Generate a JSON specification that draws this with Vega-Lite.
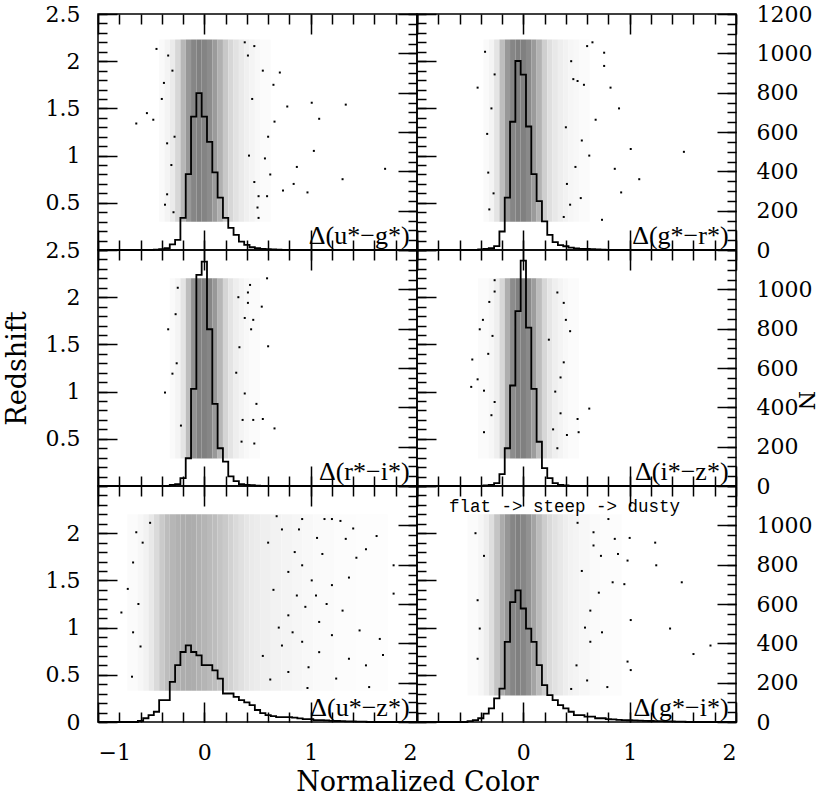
{
"$schema":"https://vega.github.io/schema/vega-lite/v6.json",
"background":"white",
"padding":{"left":2,"top":2,"right":0,"bottom":0},
"columns":2,
"spacing":0,
"bounds":"flush",
"config":{"view":{"stroke":"black","strokeWidth":1.5},"axis":{"domain":false,"grid":false,"ticks":true,"tickColor":"black","tickWidth":1.5,"tickOpacity":1,"labelFont":"DejaVu Serif","labelFontSize":22,"labelColor":"black","titleFont":"DejaVu Serif","titleFontSize":27,"titleFontWeight":"normal","titleColor":"black"}},
"datasets":{
"cells":[
{"p":"ug","a":-0.425,"b":-0.375,"d":0.04},{"p":"ug","a":-0.375,"b":-0.325,"d":0.08},{"p":"ug","a":-0.325,"b":-0.275,"d":0.15},{"p":"ug","a":-0.275,"b":-0.225,"d":0.3},{"p":"ug","a":-0.225,"b":-0.175,"d":0.55},{"p":"ug","a":-0.175,"b":-0.125,"d":0.8},{"p":"ug","a":-0.125,"b":-0.075,"d":0.95},{"p":"ug","a":-0.075,"b":-0.025,"d":1},{"p":"ug","a":-0.025,"b":0.025,"d":0.97},{"p":"ug","a":0.025,"b":0.075,"d":0.9},{"p":"ug","a":0.075,"b":0.125,"d":0.78},{"p":"ug","a":0.125,"b":0.175,"d":0.6},{"p":"ug","a":0.175,"b":0.225,"d":0.42},{"p":"ug","a":0.225,"b":0.275,"d":0.3},{"p":"ug","a":0.275,"b":0.325,"d":0.22},{"p":"ug","a":0.325,"b":0.375,"d":0.16},{"p":"ug","a":0.375,"b":0.425,"d":0.11},{"p":"ug","a":0.425,"b":0.475,"d":0.08},{"p":"ug","a":0.475,"b":0.525,"d":0.05},{"p":"ug","a":0.525,"b":0.625,"d":0.03},
{"p":"gr","a":-0.375,"b":-0.325,"d":0.04},{"p":"gr","a":-0.325,"b":-0.275,"d":0.08},{"p":"gr","a":-0.275,"b":-0.225,"d":0.2},{"p":"gr","a":-0.225,"b":-0.175,"d":0.5},{"p":"gr","a":-0.175,"b":-0.125,"d":0.8},{"p":"gr","a":-0.125,"b":-0.075,"d":0.95},{"p":"gr","a":-0.075,"b":-0.025,"d":1},{"p":"gr","a":-0.025,"b":0.025,"d":1},{"p":"gr","a":0.025,"b":0.075,"d":0.92},{"p":"gr","a":0.075,"b":0.125,"d":0.78},{"p":"gr","a":0.125,"b":0.175,"d":0.58},{"p":"gr","a":0.175,"b":0.225,"d":0.36},{"p":"gr","a":0.225,"b":0.275,"d":0.24},{"p":"gr","a":0.275,"b":0.325,"d":0.17},{"p":"gr","a":0.325,"b":0.375,"d":0.13},{"p":"gr","a":0.375,"b":0.425,"d":0.1},{"p":"gr","a":0.425,"b":0.475,"d":0.07},{"p":"gr","a":0.475,"b":0.525,"d":0.05},{"p":"gr","a":0.525,"b":0.625,"d":0.03},
{"p":"ri","a":-0.325,"b":-0.275,"d":0.04},{"p":"ri","a":-0.275,"b":-0.225,"d":0.08},{"p":"ri","a":-0.225,"b":-0.175,"d":0.2},{"p":"ri","a":-0.175,"b":-0.125,"d":0.5},{"p":"ri","a":-0.125,"b":-0.075,"d":0.85},{"p":"ri","a":-0.075,"b":-0.025,"d":1},{"p":"ri","a":-0.025,"b":0.025,"d":1},{"p":"ri","a":0.025,"b":0.075,"d":0.95},{"p":"ri","a":0.075,"b":0.125,"d":0.8},{"p":"ri","a":0.125,"b":0.175,"d":0.55},{"p":"ri","a":0.175,"b":0.225,"d":0.32},{"p":"ri","a":0.225,"b":0.275,"d":0.2},{"p":"ri","a":0.275,"b":0.325,"d":0.13},{"p":"ri","a":0.325,"b":0.375,"d":0.08},{"p":"ri","a":0.375,"b":0.425,"d":0.05},{"p":"ri","a":0.425,"b":0.525,"d":0.03},
{"p":"iz","a":-0.425,"b":-0.325,"d":0.03},{"p":"iz","a":-0.325,"b":-0.275,"d":0.06},{"p":"iz","a":-0.275,"b":-0.225,"d":0.12},{"p":"iz","a":-0.225,"b":-0.175,"d":0.3},{"p":"iz","a":-0.175,"b":-0.125,"d":0.62},{"p":"iz","a":-0.125,"b":-0.075,"d":0.9},{"p":"iz","a":-0.075,"b":-0.025,"d":1},{"p":"iz","a":-0.025,"b":0.025,"d":1},{"p":"iz","a":0.025,"b":0.075,"d":0.92},{"p":"iz","a":0.075,"b":0.125,"d":0.76},{"p":"iz","a":0.125,"b":0.175,"d":0.5},{"p":"iz","a":0.175,"b":0.225,"d":0.3},{"p":"iz","a":0.225,"b":0.275,"d":0.19},{"p":"iz","a":0.275,"b":0.325,"d":0.12},{"p":"iz","a":0.325,"b":0.375,"d":0.08},{"p":"iz","a":0.375,"b":0.425,"d":0.05},{"p":"iz","a":0.425,"b":0.525,"d":0.03},
{"p":"uz","a":-0.725,"b":-0.625,"d":0.03},{"p":"uz","a":-0.625,"b":-0.575,"d":0.06},{"p":"uz","a":-0.575,"b":-0.525,"d":0.1},{"p":"uz","a":-0.525,"b":-0.475,"d":0.17},{"p":"uz","a":-0.475,"b":-0.425,"d":0.28},{"p":"uz","a":-0.425,"b":-0.375,"d":0.4},{"p":"uz","a":-0.375,"b":-0.325,"d":0.5},{"p":"uz","a":-0.325,"b":-0.275,"d":0.56},{"p":"uz","a":-0.275,"b":-0.225,"d":0.6},{"p":"uz","a":-0.225,"b":-0.175,"d":0.63},{"p":"uz","a":-0.175,"b":-0.125,"d":0.64},{"p":"uz","a":-0.125,"b":-0.075,"d":0.63},{"p":"uz","a":-0.075,"b":-0.025,"d":0.6},{"p":"uz","a":-0.025,"b":0.025,"d":0.57},{"p":"uz","a":0.025,"b":0.075,"d":0.53},{"p":"uz","a":0.075,"b":0.125,"d":0.5},{"p":"uz","a":0.125,"b":0.175,"d":0.45},{"p":"uz","a":0.175,"b":0.225,"d":0.4},{"p":"uz","a":0.225,"b":0.275,"d":0.34},{"p":"uz","a":0.275,"b":0.325,"d":0.28},{"p":"uz","a":0.325,"b":0.375,"d":0.23},{"p":"uz","a":0.375,"b":0.425,"d":0.19},{"p":"uz","a":0.425,"b":0.475,"d":0.16},{"p":"uz","a":0.475,"b":0.525,"d":0.14},{"p":"uz","a":0.525,"b":0.625,"d":0.12},{"p":"uz","a":0.625,"b":0.725,"d":0.1},{"p":"uz","a":0.725,"b":0.825,"d":0.08},{"p":"uz","a":0.825,"b":0.925,"d":0.065},{"p":"uz","a":0.925,"b":1.025,"d":0.05},{"p":"uz","a":1.025,"b":1.225,"d":0.035},{"p":"uz","a":1.225,"b":1.425,"d":0.025},{"p":"uz","a":1.425,"b":1.725,"d":0.015},
{"p":"gi","a":-0.525,"b":-0.425,"d":0.03},{"p":"gi","a":-0.425,"b":-0.375,"d":0.07},{"p":"gi","a":-0.375,"b":-0.325,"d":0.13},{"p":"gi","a":-0.325,"b":-0.275,"d":0.25},{"p":"gi","a":-0.275,"b":-0.225,"d":0.45},{"p":"gi","a":-0.225,"b":-0.175,"d":0.65},{"p":"gi","a":-0.175,"b":-0.125,"d":0.82},{"p":"gi","a":-0.125,"b":-0.075,"d":0.95},{"p":"gi","a":-0.075,"b":-0.025,"d":1},{"p":"gi","a":-0.025,"b":0.025,"d":0.95},{"p":"gi","a":0.025,"b":0.075,"d":0.85},{"p":"gi","a":0.075,"b":0.125,"d":0.7},{"p":"gi","a":0.125,"b":0.175,"d":0.52},{"p":"gi","a":0.175,"b":0.225,"d":0.38},{"p":"gi","a":0.225,"b":0.275,"d":0.28},{"p":"gi","a":0.275,"b":0.325,"d":0.22},{"p":"gi","a":0.325,"b":0.375,"d":0.17},{"p":"gi","a":0.375,"b":0.425,"d":0.13},{"p":"gi","a":0.425,"b":0.475,"d":0.1},{"p":"gi","a":0.475,"b":0.525,"d":0.08},{"p":"gi","a":0.525,"b":0.625,"d":0.06},{"p":"gi","a":0.625,"b":0.725,"d":0.04},{"p":"gi","a":0.725,"b":0.925,"d":0.025}
],
"pts":[
{"p":"ug","x":-0.45,"z":2.13},{"p":"ug","x":-0.34,"z":2.06},{"p":"ug","x":-0.38,"z":1.77},{"p":"ug","x":-0.54,"z":1.45},{"p":"ug","x":-0.64,"z":1.34},{"p":"ug","x":-0.48,"z":1.38},{"p":"ug","x":-0.35,"z":1.13},{"p":"ug","x":-0.35,"z":0.59},{"p":"ug","x":-0.37,"z":0.48},{"p":"ug","x":0.71,"z":1.88},{"p":"ug","x":0.65,"z":1.75},{"p":"ug","x":0.78,"z":1.52},{"p":"ug","x":1.01,"z":1.56},{"p":"ug","x":1.33,"z":1.54},{"p":"ug","x":1.08,"z":1.39},{"p":"ug","x":1.03,"z":1.05},{"p":"ug","x":0.87,"z":0.88},{"p":"ug","x":0.84,"z":0.7},{"p":"ug","x":1.3,"z":0.75},{"p":"ug","x":1.7,"z":0.86},{"p":"ug","x":0.74,"z":0.63},{"p":"ug","x":0.97,"z":0.61},{"p":"ug","x":0.57,"z":0.97},{"p":"ug","x":0.59,"z":0.57},{"p":"ug","x":0.51,"z":0.57},{"p":"ug","x":0.51,"z":0.34},{"p":"ug","x":0.47,"z":0.72},{"p":"ug","x":0.66,"z":1.36},{"p":"ug","x":0.47,"z":2.16},{"p":"ug","x":0.41,"z":2.06},{"p":"ug","x":-0.3,"z":1.9},{"p":"ug","x":-0.28,"z":1.2},{"p":"ug","x":-0.31,"z":0.9},{"p":"ug","x":0.45,"z":1.6},{"p":"ug","x":0.55,"z":1.9},{"p":"ug","x":0.6,"z":1.2},{"p":"ug","x":0.42,"z":1.0},{"p":"ug","x":0.5,"z":0.45},{"p":"ug","x":0.62,"z":0.8},{"p":"ug","x":-0.4,"z":1.6},{"p":"ug","x":-0.29,"z":0.4},{"p":"ug","x":0.38,"z":2.2},
{"p":"gr","x":-0.43,"z":1.72},{"p":"gr","x":-0.34,"z":1.23},{"p":"gr","x":-0.33,"z":0.82},{"p":"gr","x":-0.32,"z":0.43},{"p":"gr","x":-0.27,"z":1.86},{"p":"gr","x":0.6,"z":2.16},{"p":"gr","x":0.65,"z":2.2},{"p":"gr","x":0.76,"z":2.09},{"p":"gr","x":0.76,"z":1.95},{"p":"gr","x":0.82,"z":1.72},{"p":"gr","x":0.9,"z":1.5},{"p":"gr","x":0.68,"z":1.38},{"p":"gr","x":0.57,"z":1.75},{"p":"gr","x":0.51,"z":1.79},{"p":"gr","x":0.47,"z":1.81},{"p":"gr","x":0.55,"z":1.16},{"p":"gr","x":0.49,"z":0.88},{"p":"gr","x":0.86,"z":0.86},{"p":"gr","x":1.01,"z":1.07},{"p":"gr","x":1.09,"z":0.75},{"p":"gr","x":0.92,"z":0.61},{"p":"gr","x":1.51,"z":1.04},{"p":"gr","x":0.74,"z":0.32},{"p":"gr","x":0.54,"z":0.55},{"p":"gr","x":0.44,"z":0.48},{"p":"gr","x":0.41,"z":0.7},{"p":"gr","x":-0.3,"z":1.5},{"p":"gr","x":-0.28,"z":0.6},{"p":"gr","x":0.45,"z":2.0},{"p":"gr","x":0.4,"z":1.3},{"p":"gr","x":0.62,"z":1.0},{"p":"gr","x":0.38,"z":0.35},{"p":"gr","x":-0.36,"z":2.1},
{"p":"ri","x":0.59,"z":2.2},{"p":"ri","x":0.43,"z":2.13},{"p":"ri","x":0.41,"z":2.05},{"p":"ri","x":0.54,"z":1.9},{"p":"ri","x":0.41,"z":1.94},{"p":"ri","x":0.38,"z":1.78},{"p":"ri","x":0.46,"z":1.76},{"p":"ri","x":0.44,"z":1.66},{"p":"ri","x":0.6,"z":1.48},{"p":"ri","x":-0.27,"z":1.82},{"p":"ri","x":-0.34,"z":1.66},{"p":"ri","x":-0.3,"z":1.19},{"p":"ri","x":-0.37,"z":0.99},{"p":"ri","x":0.49,"z":0.87},{"p":"ri","x":0.66,"z":0.61},{"p":"ri","x":0.55,"z":0.71},{"p":"ri","x":0.46,"z":0.7},{"p":"ri","x":0.47,"z":0.45},{"p":"ri","x":0.35,"z":0.47},{"p":"ri","x":0.38,"z":0.98},{"p":"ri","x":0.33,"z":1.47},{"p":"ri","x":-0.22,"z":0.64},{"p":"ri","x":-0.25,"z":2.1},{"p":"ri","x":0.3,"z":1.2},{"p":"ri","x":0.36,"z":0.7},{"p":"ri","x":-0.26,"z":1.3},{"p":"ri","x":0.32,"z":2.0},
{"p":"iz","x":-0.27,"z":2.18},{"p":"iz","x":-0.27,"z":2.06},{"p":"iz","x":-0.38,"z":1.76},{"p":"iz","x":-0.41,"z":1.66},{"p":"iz","x":-0.48,"z":1.34},{"p":"iz","x":-0.49,"z":1.05},{"p":"iz","x":-0.43,"z":1.13},{"p":"iz","x":-0.37,"z":1.01},{"p":"iz","x":-0.29,"z":1.59},{"p":"iz","x":-0.37,"z":0.57},{"p":"iz","x":-0.27,"z":0.89},{"p":"iz","x":0.32,"z":2.05},{"p":"iz","x":0.38,"z":1.94},{"p":"iz","x":0.4,"z":1.76},{"p":"iz","x":0.44,"z":1.64},{"p":"iz","x":0.38,"z":1.31},{"p":"iz","x":0.35,"z":1.15},{"p":"iz","x":0.62,"z":0.82},{"p":"iz","x":0.51,"z":0.71},{"p":"iz","x":0.52,"z":0.57},{"p":"iz","x":0.41,"z":0.54},{"p":"iz","x":0.32,"z":0.4},{"p":"iz","x":0.35,"z":0.77},{"p":"iz","x":0.24,"z":1.55},{"p":"iz","x":-0.33,"z":1.4},{"p":"iz","x":-0.3,"z":0.75},{"p":"iz","x":0.3,"z":1.0},{"p":"iz","x":0.28,"z":0.6},{"p":"iz","x":-0.32,"z":1.95},
{"p":"uz","x":0.92,"z":2.15},{"p":"uz","x":1.13,"z":2.15},{"p":"uz","x":1.2,"z":2.15},{"p":"uz","x":1.28,"z":2.13},{"p":"uz","x":0.89,"z":2.04},{"p":"uz","x":0.73,"z":2.04},{"p":"uz","x":1.06,"z":1.95},{"p":"uz","x":1.33,"z":1.94},{"p":"uz","x":1.62,"z":1.97},{"p":"uz","x":1.78,"z":1.66},{"p":"uz","x":1.52,"z":1.83},{"p":"uz","x":1.43,"z":1.74},{"p":"uz","x":1.11,"z":1.78},{"p":"uz","x":0.92,"z":1.66},{"p":"uz","x":0.79,"z":1.59},{"p":"uz","x":1.01,"z":1.5},{"p":"uz","x":1.2,"z":1.45},{"p":"uz","x":1.36,"z":1.53},{"p":"uz","x":0.87,"z":1.34},{"p":"uz","x":1.05,"z":1.34},{"p":"uz","x":1.3,"z":1.18},{"p":"uz","x":1.78,"z":1.36},{"p":"uz","x":0.95,"z":1.22},{"p":"uz","x":0.79,"z":1.13},{"p":"uz","x":1.08,"z":1.06},{"p":"uz","x":1.46,"z":0.97},{"p":"uz","x":1.65,"z":0.88},{"p":"uz","x":1.2,"z":0.92},{"p":"uz","x":0.92,"z":0.85},{"p":"uz","x":0.73,"z":0.81},{"p":"uz","x":1.08,"z":0.74},{"p":"uz","x":1.36,"z":0.67},{"p":"uz","x":1.52,"z":0.6},{"p":"uz","x":1.68,"z":0.71},{"p":"uz","x":0.98,"z":0.58},{"p":"uz","x":0.79,"z":0.53},{"p":"uz","x":1.24,"z":0.46},{"p":"uz","x":1.55,"z":0.37},{"p":"uz","x":0.97,"z":0.36},{"p":"uz","x":-0.67,"z":1.69},{"p":"uz","x":-0.72,"z":1.41},{"p":"uz","x":-0.78,"z":1.16},{"p":"uz","x":-0.67,"z":0.95},{"p":"uz","x":-0.68,"z":0.48},{"p":"uz","x":-0.64,"z":2.01},{"p":"uz","x":-0.51,"z":2.11},{"p":"uz","x":0.6,"z":1.9},{"p":"uz","x":0.65,"z":1.4},{"p":"uz","x":0.7,"z":1.0},{"p":"uz","x":0.55,"z":0.7},{"p":"uz","x":0.62,"z":0.45},{"p":"uz","x":0.85,"z":1.8},{"p":"uz","x":0.68,"z":2.18},{"p":"uz","x":1.4,"z":2.05},{"p":"uz","x":1.15,"z":1.25},{"p":"uz","x":0.83,"z":0.95},{"p":"uz","x":-0.6,"z":0.8},{"p":"uz","x":-0.62,"z":1.25},{"p":"uz","x":-0.58,"z":1.9},
{"p":"gi","x":0.66,"z":1.87},{"p":"gi","x":0.86,"z":1.94},{"p":"gi","x":1.0,"z":1.95},{"p":"gi","x":1.24,"z":1.9},{"p":"gi","x":0.89,"z":1.78},{"p":"gi","x":0.73,"z":1.76},{"p":"gi","x":0.98,"z":1.71},{"p":"gi","x":1.25,"z":1.66},{"p":"gi","x":1.49,"z":1.48},{"p":"gi","x":0.84,"z":1.48},{"p":"gi","x":0.95,"z":1.46},{"p":"gi","x":0.71,"z":1.37},{"p":"gi","x":0.63,"z":1.18},{"p":"gi","x":1.01,"z":1.08},{"p":"gi","x":1.38,"z":0.99},{"p":"gi","x":1.76,"z":0.81},{"p":"gi","x":1.6,"z":0.72},{"p":"gi","x":0.98,"z":0.64},{"p":"gi","x":1.01,"z":0.55},{"p":"gi","x":0.79,"z":0.37},{"p":"gi","x":0.6,"z":0.44},{"p":"gi","x":0.74,"z":0.95},{"p":"gi","x":0.63,"z":0.85},{"p":"gi","x":-0.43,"z":1.29},{"p":"gi","x":-0.41,"z":0.99},{"p":"gi","x":-0.43,"z":0.67},{"p":"gi","x":-0.37,"z":1.76},{"p":"gi","x":0.51,"z":2.11},{"p":"gi","x":0.66,"z":2.01},{"p":"gi","x":0.55,"z":1.6},{"p":"gi","x":0.58,"z":1.0},{"p":"gi","x":0.5,"z":0.6},{"p":"gi","x":-0.45,"z":2.0},{"p":"gi","x":0.8,"z":2.15},{"p":"gi","x":0.45,"z":0.35}
],
"hist":[
{"p":"ug","x":-1,"n":0},{"p":"ug","x":-0.475,"n":2},{"p":"ug","x":-0.425,"n":4},{"p":"ug","x":-0.375,"n":9},{"p":"ug","x":-0.325,"n":29},{"p":"ug","x":-0.275,"n":51},{"p":"ug","x":-0.225,"n":163},{"p":"ug","x":-0.175,"n":386},{"p":"ug","x":-0.125,"n":678},{"p":"ug","x":-0.075,"n":798},{"p":"ug","x":-0.025,"n":678},{"p":"ug","x":0.025,"n":550},{"p":"ug","x":0.075,"n":395},{"p":"ug","x":0.125,"n":266},{"p":"ug","x":0.175,"n":163},{"p":"ug","x":0.225,"n":112},{"p":"ug","x":0.275,"n":77},{"p":"ug","x":0.325,"n":43},{"p":"ug","x":0.375,"n":26},{"p":"ug","x":0.425,"n":14},{"p":"ug","x":0.475,"n":9},{"p":"ug","x":0.525,"n":6},{"p":"ug","x":0.575,"n":4},{"p":"ug","x":0.625,"n":3},{"p":"ug","x":0.675,"n":2},{"p":"ug","x":0.725,"n":0},{"p":"ug","x":2,"n":0},
{"p":"gr","x":-1,"n":0},{"p":"gr","x":-0.425,"n":3},{"p":"gr","x":-0.375,"n":5},{"p":"gr","x":-0.325,"n":10},{"p":"gr","x":-0.275,"n":20},{"p":"gr","x":-0.225,"n":94},{"p":"gr","x":-0.175,"n":266},{"p":"gr","x":-0.125,"n":652},{"p":"gr","x":-0.075,"n":961},{"p":"gr","x":-0.025,"n":892},{"p":"gr","x":0.025,"n":628},{"p":"gr","x":0.075,"n":386},{"p":"gr","x":0.125,"n":249},{"p":"gr","x":0.175,"n":146},{"p":"gr","x":0.225,"n":77},{"p":"gr","x":0.275,"n":40},{"p":"gr","x":0.325,"n":25},{"p":"gr","x":0.375,"n":19},{"p":"gr","x":0.425,"n":12},{"p":"gr","x":0.475,"n":8},{"p":"gr","x":0.525,"n":6},{"p":"gr","x":0.575,"n":5},{"p":"gr","x":0.625,"n":4},{"p":"gr","x":0.675,"n":3},{"p":"gr","x":0.725,"n":2},{"p":"gr","x":0.775,"n":0},{"p":"gr","x":2,"n":0},
{"p":"ri","x":-1,"n":0},{"p":"ri","x":-0.325,"n":5},{"p":"ri","x":-0.275,"n":10},{"p":"ri","x":-0.225,"n":40},{"p":"ri","x":-0.175,"n":141},{"p":"ri","x":-0.125,"n":494},{"p":"ri","x":-0.075,"n":1074},{"p":"ri","x":-0.025,"n":1141},{"p":"ri","x":0.025,"n":797},{"p":"ri","x":0.075,"n":418},{"p":"ri","x":0.125,"n":192},{"p":"ri","x":0.175,"n":124},{"p":"ri","x":0.225,"n":49},{"p":"ri","x":0.275,"n":25},{"p":"ri","x":0.325,"n":10},{"p":"ri","x":0.375,"n":6},{"p":"ri","x":0.425,"n":4},{"p":"ri","x":0.475,"n":2},{"p":"ri","x":0.525,"n":0},{"p":"ri","x":2,"n":0},
{"p":"iz","x":-1,"n":0},{"p":"iz","x":-0.375,"n":3},{"p":"iz","x":-0.325,"n":6},{"p":"iz","x":-0.275,"n":15},{"p":"iz","x":-0.225,"n":60},{"p":"iz","x":-0.175,"n":192},{"p":"iz","x":-0.125,"n":511},{"p":"iz","x":-0.075,"n":889},{"p":"iz","x":-0.025,"n":1146},{"p":"iz","x":0.025,"n":805},{"p":"iz","x":0.075,"n":494},{"p":"iz","x":0.125,"n":225},{"p":"iz","x":0.175,"n":91},{"p":"iz","x":0.225,"n":40},{"p":"iz","x":0.275,"n":15},{"p":"iz","x":0.325,"n":6},{"p":"iz","x":0.375,"n":3},{"p":"iz","x":0.425,"n":0},{"p":"iz","x":2,"n":0},
{"p":"uz","x":-1,"n":0},{"p":"uz","x":-0.625,"n":5},{"p":"uz","x":-0.575,"n":19},{"p":"uz","x":-0.525,"n":35},{"p":"uz","x":-0.475,"n":52},{"p":"uz","x":-0.425,"n":111},{"p":"uz","x":-0.375,"n":111},{"p":"uz","x":-0.325,"n":204},{"p":"uz","x":-0.275,"n":289},{"p":"uz","x":-0.225,"n":356},{"p":"uz","x":-0.175,"n":390},{"p":"uz","x":-0.125,"n":356},{"p":"uz","x":-0.075,"n":339},{"p":"uz","x":-0.025,"n":289},{"p":"uz","x":0.025,"n":289},{"p":"uz","x":0.075,"n":263},{"p":"uz","x":0.125,"n":221},{"p":"uz","x":0.175,"n":145},{"p":"uz","x":0.225,"n":145},{"p":"uz","x":0.275,"n":128},{"p":"uz","x":0.325,"n":111},{"p":"uz","x":0.375,"n":100},{"p":"uz","x":0.425,"n":86},{"p":"uz","x":0.475,"n":61},{"p":"uz","x":0.525,"n":45},{"p":"uz","x":0.575,"n":35},{"p":"uz","x":0.625,"n":30},{"p":"uz","x":0.675,"n":25},{"p":"uz","x":0.725,"n":25},{"p":"uz","x":0.775,"n":25},{"p":"uz","x":0.825,"n":22},{"p":"uz","x":0.875,"n":18},{"p":"uz","x":0.925,"n":15},{"p":"uz","x":0.975,"n":15},{"p":"uz","x":1.025,"n":10},{"p":"uz","x":1.075,"n":10},{"p":"uz","x":1.125,"n":8},{"p":"uz","x":1.175,"n":6},{"p":"uz","x":1.225,"n":5},{"p":"uz","x":1.275,"n":4},{"p":"uz","x":1.325,"n":3},{"p":"uz","x":1.375,"n":3},{"p":"uz","x":1.425,"n":2},{"p":"uz","x":1.475,"n":2},{"p":"uz","x":1.525,"n":0},{"p":"uz","x":2,"n":0},
{"p":"gi","x":-1,"n":0},{"p":"gi","x":-0.525,"n":4},{"p":"gi","x":-0.475,"n":10},{"p":"gi","x":-0.425,"n":19},{"p":"gi","x":-0.375,"n":43},{"p":"gi","x":-0.325,"n":69},{"p":"gi","x":-0.275,"n":120},{"p":"gi","x":-0.225,"n":170},{"p":"gi","x":-0.175,"n":407},{"p":"gi","x":-0.125,"n":610},{"p":"gi","x":-0.075,"n":669},{"p":"gi","x":-0.025,"n":577},{"p":"gi","x":0.025,"n":475},{"p":"gi","x":0.075,"n":407},{"p":"gi","x":0.125,"n":289},{"p":"gi","x":0.175,"n":187},{"p":"gi","x":0.225,"n":137},{"p":"gi","x":0.275,"n":111},{"p":"gi","x":0.325,"n":86},{"p":"gi","x":0.375,"n":69},{"p":"gi","x":0.425,"n":52},{"p":"gi","x":0.475,"n":35},{"p":"gi","x":0.525,"n":35},{"p":"gi","x":0.575,"n":27},{"p":"gi","x":0.625,"n":27},{"p":"gi","x":0.675,"n":19},{"p":"gi","x":0.725,"n":19},{"p":"gi","x":0.775,"n":15},{"p":"gi","x":0.825,"n":13},{"p":"gi","x":0.875,"n":11},{"p":"gi","x":0.925,"n":10},{"p":"gi","x":0.975,"n":9},{"p":"gi","x":1.025,"n":8},{"p":"gi","x":1.075,"n":7},{"p":"gi","x":1.125,"n":6},{"p":"gi","x":1.175,"n":5},{"p":"gi","x":1.225,"n":4},{"p":"gi","x":1.325,"n":3},{"p":"gi","x":1.425,"n":2},{"p":"gi","x":1.525,"n":0},{"p":"gi","x":2,"n":0}
]
},
"concat":[
{"width":319,"height":236,
"layer":[
{"data":{"name":"cells"},"transform":[{"filter":"datum.p==='ug'"}],"mark":{"type":"rect"},
"encoding":{"x":{"field":"a","type":"quantitative","scale":{"domain":[-1,2],"nice":false,"zero":false},"axis":null},"x2":{"field":"b"},"y":{"datum":0.3,"type":"quantitative","scale":{"domain":[0,2.5],"nice":false,"zero":false},"axis":null},"y2":{"datum":2.23},"color":{"field":"d","type":"quantitative","scale":{"domain":[0,1],"range":["#ffffff","#808080"]},"legend":null}}},
{"data":{"name":"pts"},"transform":[{"filter":"datum.p==='ug'"}],"mark":{"type":"square","size":4,"color":"black","opacity":1},
"encoding":{"x":{"field":"x","type":"quantitative","scale":{"domain":[-1,2],"nice":false,"zero":false},"axis":{"orient":"bottom","values":[-1,-0.8,-0.6,-0.4,-0.2,0,0.2,0.4,0.6,0.8,1,1.2,1.4,1.6,1.8,2],"offset":-10,"tickSize":10,"ticks":true,"tickColor":"black","tickWidth":1.5,"tickOpacity":1,"zindex":1,"labels":false,"title":null}},"y":{"field":"z","type":"quantitative","scale":{"domain":[0,2.5],"nice":false,"zero":false},"axis":{"orient":"left","values":[0,0.1,0.2,0.3,0.4,0.5,0.6,0.7,0.8,0.9,1,1.1,1.2,1.3,1.4,1.5,1.6,1.7,1.8,1.9,2,2.1,2.2,2.3,2.4,2.5],"offset":-9,"tickSize":9,"ticks":true,"tickColor":"black","tickWidth":1.5,"tickOpacity":1,"zindex":1,"labels":false,"title":null}}}},
{"data":{"name":"pts"},"transform":[{"filter":"datum.p==='ug'"}],"mark":{"type":"square","size":4,"color":"black","opacity":0},
"encoding":{"x":{"field":"x","type":"quantitative","scale":{"domain":[-1,2],"nice":false,"zero":false},"axis":{"orient":"bottom","values":[-1,0,1,2],"offset":-20,"tickSize":20,"ticks":true,"tickColor":"black","tickWidth":1.5,"tickOpacity":1,"zindex":1,"labels":false,"title":null}},"y":{"field":"z","type":"quantitative","scale":{"domain":[0,2.5],"nice":false,"zero":false},"axis":{"orient":"left","values":[0.5,1,1.5,2,2.5],"offset":-19,"tickSize":19,"ticks":true,"tickColor":"black","tickWidth":1.5,"tickOpacity":1,"zindex":1,"labels":true,"labelPadding":18,"format":"~g","title":null}}}},
{"data":{"name":"hist"},"transform":[{"filter":"datum.p==='ug'"}],"mark":{"type":"line","interpolate":"step-after","color":"black","strokeWidth":1.8},
"encoding":{"x":{"field":"x","type":"quantitative","scale":{"domain":[-1,2],"nice":false,"zero":false},"axis":{"orient":"top","values":[-1,-0.8,-0.6,-0.4,-0.2,0,0.2,0.4,0.6,0.8,1,1.2,1.4,1.6,1.8,2],"offset":-10,"tickSize":10,"ticks":true,"tickColor":"black","tickWidth":1.5,"tickOpacity":1,"zindex":1,"labels":false,"title":null}},"y":{"field":"n","type":"quantitative","scale":{"domain":[0,1200],"nice":false,"zero":false},"axis":{"orient":"right","values":[0,50,100,150,200,250,300,350,400,450,500,550,600,650,700,750,800,850,900,950,1000,1050,1100,1150,1200],"offset":-9,"tickSize":9,"ticks":true,"tickColor":"black","tickWidth":1.5,"tickOpacity":1,"zindex":1,"labels":false,"title":null}}}},
{"data":{"name":"hist"},"transform":[{"filter":"datum.p==='ug'"}],"mark":{"type":"line","interpolate":"step-after","color":"black","opacity":0},
"encoding":{"x":{"field":"x","type":"quantitative","scale":{"domain":[-1,2],"nice":false,"zero":false},"axis":{"orient":"top","values":[-1,0,1,2],"offset":-20,"tickSize":20,"ticks":true,"tickColor":"black","tickWidth":1.5,"tickOpacity":1,"zindex":1,"labels":false,"title":null}},"y":{"field":"n","type":"quantitative","scale":{"domain":[0,1200],"nice":false,"zero":false},"axis":{"orient":"right","values":[0,200,400,600,800,1000,1200],"offset":-19,"tickSize":19,"ticks":true,"tickColor":"black","tickWidth":1.5,"tickOpacity":1,"zindex":1,"labels":false,"title":null}}}},
{"data":{"values":[{"t":"Δ(u*−g*)"}]},"mark":{"type":"text","align":"right","baseline":"bottom","font":"Liberation Serif","fontSize":26,"color":"black"},
"encoding":{"text":{"field":"t","type":"nominal"},"x":{"datum":1.93,"type":"quantitative","scale":{"domain":[-1,2],"nice":false,"zero":false},"axis":null},"y":{"datum":5,"type":"quantitative","scale":{"domain":[0,1200],"nice":false,"zero":false},"axis":null}}}
],
"resolve":{"scale":{"y":"independent"},"axis":{"x":"independent","y":"independent"}}},

{"width":319,"height":236,
"layer":[
{"data":{"name":"cells"},"transform":[{"filter":"datum.p==='gr'"}],"mark":{"type":"rect"},
"encoding":{"x":{"field":"a","type":"quantitative","scale":{"domain":[-1,2],"nice":false,"zero":false},"axis":null},"x2":{"field":"b"},"y":{"datum":0.3,"type":"quantitative","scale":{"domain":[0,2.5],"nice":false,"zero":false},"axis":null},"y2":{"datum":2.23},"color":{"field":"d","type":"quantitative","scale":{"domain":[0,1],"range":["#ffffff","#808080"]},"legend":null}}},
{"data":{"name":"pts"},"transform":[{"filter":"datum.p==='gr'"}],"mark":{"type":"square","size":4,"color":"black","opacity":1},
"encoding":{"x":{"field":"x","type":"quantitative","scale":{"domain":[-1,2],"nice":false,"zero":false},"axis":{"orient":"bottom","values":[-1,-0.8,-0.6,-0.4,-0.2,0,0.2,0.4,0.6,0.8,1,1.2,1.4,1.6,1.8,2],"offset":-10,"tickSize":10,"ticks":true,"tickColor":"black","tickWidth":1.5,"tickOpacity":1,"zindex":1,"labels":false,"title":null}},"y":{"field":"z","type":"quantitative","scale":{"domain":[0,2.5],"nice":false,"zero":false},"axis":{"orient":"left","values":[0,0.1,0.2,0.3,0.4,0.5,0.6,0.7,0.8,0.9,1,1.1,1.2,1.3,1.4,1.5,1.6,1.7,1.8,1.9,2,2.1,2.2,2.3,2.4,2.5],"offset":-9,"tickSize":9,"ticks":true,"tickColor":"black","tickWidth":1.5,"tickOpacity":1,"zindex":1,"labels":false,"title":null}}}},
{"data":{"name":"pts"},"transform":[{"filter":"datum.p==='gr'"}],"mark":{"type":"square","size":4,"color":"black","opacity":0},
"encoding":{"x":{"field":"x","type":"quantitative","scale":{"domain":[-1,2],"nice":false,"zero":false},"axis":{"orient":"bottom","values":[-1,0,1,2],"offset":-20,"tickSize":20,"ticks":true,"tickColor":"black","tickWidth":1.5,"tickOpacity":1,"zindex":1,"labels":false,"title":null}},"y":{"field":"z","type":"quantitative","scale":{"domain":[0,2.5],"nice":false,"zero":false},"axis":{"orient":"left","values":[0,0.5,1,1.5,2,2.5],"offset":-19,"tickSize":19,"ticks":true,"tickColor":"black","tickWidth":1.5,"tickOpacity":1,"zindex":1,"labels":false,"title":null}}}},
{"data":{"name":"hist"},"transform":[{"filter":"datum.p==='gr'"}],"mark":{"type":"line","interpolate":"step-after","color":"black","strokeWidth":1.8},
"encoding":{"x":{"field":"x","type":"quantitative","scale":{"domain":[-1,2],"nice":false,"zero":false},"axis":{"orient":"top","values":[-1,-0.8,-0.6,-0.4,-0.2,0,0.2,0.4,0.6,0.8,1,1.2,1.4,1.6,1.8,2],"offset":-10,"tickSize":10,"ticks":true,"tickColor":"black","tickWidth":1.5,"tickOpacity":1,"zindex":1,"labels":false,"title":null}},"y":{"field":"n","type":"quantitative","scale":{"domain":[0,1200],"nice":false,"zero":false},"axis":{"orient":"right","values":[0,50,100,150,200,250,300,350,400,450,500,550,600,650,700,750,800,850,900,950,1000,1050,1100,1150,1200],"offset":-9,"tickSize":9,"ticks":true,"tickColor":"black","tickWidth":1.5,"tickOpacity":1,"zindex":1,"labels":false,"title":null}}}},
{"data":{"name":"hist"},"transform":[{"filter":"datum.p==='gr'"}],"mark":{"type":"line","interpolate":"step-after","color":"black","opacity":0},
"encoding":{"x":{"field":"x","type":"quantitative","scale":{"domain":[-1,2],"nice":false,"zero":false},"axis":{"orient":"top","values":[-1,0,1,2],"offset":-20,"tickSize":20,"ticks":true,"tickColor":"black","tickWidth":1.5,"tickOpacity":1,"zindex":1,"labels":false,"title":null}},"y":{"field":"n","type":"quantitative","scale":{"domain":[0,1200],"nice":false,"zero":false},"axis":{"orient":"right","values":[0,200,400,600,800,1000,1200],"offset":-19,"tickSize":19,"ticks":true,"tickColor":"black","tickWidth":1.5,"tickOpacity":1,"zindex":1,"labels":true,"labelPadding":20,"format":"d","title":null}}}},
{"data":{"values":[{"t":"Δ(g*−r*)"}]},"mark":{"type":"text","align":"right","baseline":"bottom","font":"Liberation Serif","fontSize":26,"color":"black"},
"encoding":{"text":{"field":"t","type":"nominal"},"x":{"datum":1.93,"type":"quantitative","scale":{"domain":[-1,2],"nice":false,"zero":false},"axis":null},"y":{"datum":5,"type":"quantitative","scale":{"domain":[0,1200],"nice":false,"zero":false},"axis":null}}}
],
"resolve":{"scale":{"y":"independent"},"axis":{"x":"independent","y":"independent"}}},

{"width":319,"height":236,
"layer":[
{"data":{"name":"cells"},"transform":[{"filter":"datum.p==='ri'"}],"mark":{"type":"rect"},
"encoding":{"x":{"field":"a","type":"quantitative","scale":{"domain":[-1,2],"nice":false,"zero":false},"axis":null},"x2":{"field":"b"},"y":{"datum":0.29,"type":"quantitative","scale":{"domain":[0,2.5],"nice":false,"zero":false},"axis":null},"y2":{"datum":2.2},"color":{"field":"d","type":"quantitative","scale":{"domain":[0,1],"range":["#ffffff","#808080"]},"legend":null}}},
{"data":{"name":"pts"},"transform":[{"filter":"datum.p==='ri'"}],"mark":{"type":"square","size":4,"color":"black","opacity":1},
"encoding":{"x":{"field":"x","type":"quantitative","scale":{"domain":[-1,2],"nice":false,"zero":false},"axis":{"orient":"bottom","values":[-1,-0.8,-0.6,-0.4,-0.2,0,0.2,0.4,0.6,0.8,1,1.2,1.4,1.6,1.8,2],"offset":-10,"tickSize":10,"ticks":true,"tickColor":"black","tickWidth":1.5,"tickOpacity":1,"zindex":1,"labels":false,"title":null}},"y":{"field":"z","type":"quantitative","scale":{"domain":[0,2.5],"nice":false,"zero":false},"axis":{"orient":"left","values":[0,0.1,0.2,0.3,0.4,0.5,0.6,0.7,0.8,0.9,1,1.1,1.2,1.3,1.4,1.5,1.6,1.7,1.8,1.9,2,2.1,2.2,2.3,2.4,2.5],"offset":-9,"tickSize":9,"ticks":true,"tickColor":"black","tickWidth":1.5,"tickOpacity":1,"zindex":1,"labels":false,"title":null}}}},
{"data":{"name":"pts"},"transform":[{"filter":"datum.p==='ri'"}],"mark":{"type":"square","size":4,"color":"black","opacity":0},
"encoding":{"x":{"field":"x","type":"quantitative","scale":{"domain":[-1,2],"nice":false,"zero":false},"axis":{"orient":"bottom","values":[-1,0,1,2],"offset":-20,"tickSize":20,"ticks":true,"tickColor":"black","tickWidth":1.5,"tickOpacity":1,"zindex":1,"labels":false,"title":null}},"y":{"field":"z","type":"quantitative","scale":{"domain":[0,2.5],"nice":false,"zero":false},"axis":{"orient":"left","values":[0.5,1,1.5,2,2.5],"offset":-19,"tickSize":19,"ticks":true,"tickColor":"black","tickWidth":1.5,"tickOpacity":1,"zindex":1,"labels":true,"labelPadding":18,"format":"~g","title":"Redshift","titlePadding":14}}}},
{"data":{"name":"hist"},"transform":[{"filter":"datum.p==='ri'"}],"mark":{"type":"line","interpolate":"step-after","color":"black","strokeWidth":1.8},
"encoding":{"x":{"field":"x","type":"quantitative","scale":{"domain":[-1,2],"nice":false,"zero":false},"axis":{"orient":"top","values":[-1,-0.8,-0.6,-0.4,-0.2,0,0.2,0.4,0.6,0.8,1,1.2,1.4,1.6,1.8,2],"offset":-10,"tickSize":10,"ticks":true,"tickColor":"black","tickWidth":1.5,"tickOpacity":1,"zindex":1,"labels":false,"title":null}},"y":{"field":"n","type":"quantitative","scale":{"domain":[0,1200],"nice":false,"zero":false},"axis":{"orient":"right","values":[0,50,100,150,200,250,300,350,400,450,500,550,600,650,700,750,800,850,900,950,1000,1050,1100,1150,1200],"offset":-9,"tickSize":9,"ticks":true,"tickColor":"black","tickWidth":1.5,"tickOpacity":1,"zindex":1,"labels":false,"title":null}}}},
{"data":{"name":"hist"},"transform":[{"filter":"datum.p==='ri'"}],"mark":{"type":"line","interpolate":"step-after","color":"black","opacity":0},
"encoding":{"x":{"field":"x","type":"quantitative","scale":{"domain":[-1,2],"nice":false,"zero":false},"axis":{"orient":"top","values":[-1,0,1,2],"offset":-20,"tickSize":20,"ticks":true,"tickColor":"black","tickWidth":1.5,"tickOpacity":1,"zindex":1,"labels":false,"title":null}},"y":{"field":"n","type":"quantitative","scale":{"domain":[0,1200],"nice":false,"zero":false},"axis":{"orient":"right","values":[0,200,400,600,800,1000,1200],"offset":-19,"tickSize":19,"ticks":true,"tickColor":"black","tickWidth":1.5,"tickOpacity":1,"zindex":1,"labels":false,"title":null}}}},
{"data":{"values":[{"t":"Δ(r*−i*)"}]},"mark":{"type":"text","align":"right","baseline":"bottom","font":"Liberation Serif","fontSize":26,"color":"black"},
"encoding":{"text":{"field":"t","type":"nominal"},"x":{"datum":1.93,"type":"quantitative","scale":{"domain":[-1,2],"nice":false,"zero":false},"axis":null},"y":{"datum":5,"type":"quantitative","scale":{"domain":[0,1200],"nice":false,"zero":false},"axis":null}}}
],
"resolve":{"scale":{"y":"independent"},"axis":{"x":"independent","y":"independent"}}},

{"width":319,"height":236,
"layer":[
{"data":{"name":"cells"},"transform":[{"filter":"datum.p==='iz'"}],"mark":{"type":"rect"},
"encoding":{"x":{"field":"a","type":"quantitative","scale":{"domain":[-1,2],"nice":false,"zero":false},"axis":null},"x2":{"field":"b"},"y":{"datum":0.29,"type":"quantitative","scale":{"domain":[0,2.5],"nice":false,"zero":false},"axis":null},"y2":{"datum":2.2},"color":{"field":"d","type":"quantitative","scale":{"domain":[0,1],"range":["#ffffff","#808080"]},"legend":null}}},
{"data":{"name":"pts"},"transform":[{"filter":"datum.p==='iz'"}],"mark":{"type":"square","size":4,"color":"black","opacity":1},
"encoding":{"x":{"field":"x","type":"quantitative","scale":{"domain":[-1,2],"nice":false,"zero":false},"axis":{"orient":"bottom","values":[-1,-0.8,-0.6,-0.4,-0.2,0,0.2,0.4,0.6,0.8,1,1.2,1.4,1.6,1.8,2],"offset":-10,"tickSize":10,"ticks":true,"tickColor":"black","tickWidth":1.5,"tickOpacity":1,"zindex":1,"labels":false,"title":null}},"y":{"field":"z","type":"quantitative","scale":{"domain":[0,2.5],"nice":false,"zero":false},"axis":{"orient":"left","values":[0,0.1,0.2,0.3,0.4,0.5,0.6,0.7,0.8,0.9,1,1.1,1.2,1.3,1.4,1.5,1.6,1.7,1.8,1.9,2,2.1,2.2,2.3,2.4,2.5],"offset":-9,"tickSize":9,"ticks":true,"tickColor":"black","tickWidth":1.5,"tickOpacity":1,"zindex":1,"labels":false,"title":null}}}},
{"data":{"name":"pts"},"transform":[{"filter":"datum.p==='iz'"}],"mark":{"type":"square","size":4,"color":"black","opacity":0},
"encoding":{"x":{"field":"x","type":"quantitative","scale":{"domain":[-1,2],"nice":false,"zero":false},"axis":{"orient":"bottom","values":[-1,0,1,2],"offset":-20,"tickSize":20,"ticks":true,"tickColor":"black","tickWidth":1.5,"tickOpacity":1,"zindex":1,"labels":false,"title":null}},"y":{"field":"z","type":"quantitative","scale":{"domain":[0,2.5],"nice":false,"zero":false},"axis":{"orient":"left","values":[0,0.5,1,1.5,2,2.5],"offset":-19,"tickSize":19,"ticks":true,"tickColor":"black","tickWidth":1.5,"tickOpacity":1,"zindex":1,"labels":false,"title":null}}}},
{"data":{"name":"hist"},"transform":[{"filter":"datum.p==='iz'"}],"mark":{"type":"line","interpolate":"step-after","color":"black","strokeWidth":1.8},
"encoding":{"x":{"field":"x","type":"quantitative","scale":{"domain":[-1,2],"nice":false,"zero":false},"axis":{"orient":"top","values":[-1,-0.8,-0.6,-0.4,-0.2,0,0.2,0.4,0.6,0.8,1,1.2,1.4,1.6,1.8,2],"offset":-10,"tickSize":10,"ticks":true,"tickColor":"black","tickWidth":1.5,"tickOpacity":1,"zindex":1,"labels":false,"title":null}},"y":{"field":"n","type":"quantitative","scale":{"domain":[0,1200],"nice":false,"zero":false},"axis":{"orient":"right","values":[0,50,100,150,200,250,300,350,400,450,500,550,600,650,700,750,800,850,900,950,1000,1050,1100,1150,1200],"offset":-9,"tickSize":9,"ticks":true,"tickColor":"black","tickWidth":1.5,"tickOpacity":1,"zindex":1,"labels":false,"title":null}}}},
{"data":{"name":"hist"},"transform":[{"filter":"datum.p==='iz'"}],"mark":{"type":"line","interpolate":"step-after","color":"black","opacity":0},
"encoding":{"x":{"field":"x","type":"quantitative","scale":{"domain":[-1,2],"nice":false,"zero":false},"axis":{"orient":"top","values":[-1,0,1,2],"offset":-20,"tickSize":20,"ticks":true,"tickColor":"black","tickWidth":1.5,"tickOpacity":1,"zindex":1,"labels":false,"title":null}},"y":{"field":"n","type":"quantitative","scale":{"domain":[0,1200],"nice":false,"zero":false},"axis":{"orient":"right","values":[0,200,400,600,800,1000],"offset":-19,"tickSize":19,"ticks":true,"tickColor":"black","tickWidth":1.5,"tickOpacity":1,"zindex":1,"labels":true,"labelPadding":20,"format":"d","title":"N","titleFontSize":22,"titleAngle":90,"titleX":88,"titleY":150,"titleAlign":"center","titleBaseline":"middle"}}}},
{"data":{"values":[{"t":"Δ(i*−z*)"}]},"mark":{"type":"text","align":"right","baseline":"bottom","font":"Liberation Serif","fontSize":26,"color":"black"},
"encoding":{"text":{"field":"t","type":"nominal"},"x":{"datum":1.93,"type":"quantitative","scale":{"domain":[-1,2],"nice":false,"zero":false},"axis":null},"y":{"datum":5,"type":"quantitative","scale":{"domain":[0,1200],"nice":false,"zero":false},"axis":null}}}
],
"resolve":{"scale":{"y":"independent"},"axis":{"x":"independent","y":"independent"}}},

{"width":319,"height":236,
"layer":[
{"data":{"name":"cells"},"transform":[{"filter":"datum.p==='uz'"}],"mark":{"type":"rect"},
"encoding":{"x":{"field":"a","type":"quantitative","scale":{"domain":[-1,2],"nice":false,"zero":false},"axis":null},"x2":{"field":"b"},"y":{"datum":0.33,"type":"quantitative","scale":{"domain":[0,2.5],"nice":false,"zero":false},"axis":null},"y2":{"datum":2.2},"color":{"field":"d","type":"quantitative","scale":{"domain":[0,1],"range":["#ffffff","#808080"]},"legend":null}}},
{"data":{"name":"pts"},"transform":[{"filter":"datum.p==='uz'"}],"mark":{"type":"square","size":4,"color":"black","opacity":1},
"encoding":{"x":{"field":"x","type":"quantitative","scale":{"domain":[-1,2],"nice":false,"zero":false},"axis":{"orient":"bottom","values":[-1,-0.8,-0.6,-0.4,-0.2,0,0.2,0.4,0.6,0.8,1,1.2,1.4,1.6,1.8,2],"offset":-10,"tickSize":10,"ticks":true,"tickColor":"black","tickWidth":1.5,"tickOpacity":1,"zindex":1,"labels":false,"title":null}},"y":{"field":"z","type":"quantitative","scale":{"domain":[0,2.5],"nice":false,"zero":false},"axis":{"orient":"left","values":[0,0.1,0.2,0.3,0.4,0.5,0.6,0.7,0.8,0.9,1,1.1,1.2,1.3,1.4,1.5,1.6,1.7,1.8,1.9,2,2.1,2.2,2.3,2.4,2.5],"offset":-9,"tickSize":9,"ticks":true,"tickColor":"black","tickWidth":1.5,"tickOpacity":1,"zindex":1,"labels":false,"title":null}}}},
{"data":{"name":"pts"},"transform":[{"filter":"datum.p==='uz'"}],"mark":{"type":"square","size":4,"color":"black","opacity":0},
"encoding":{"x":{"field":"x","type":"quantitative","scale":{"domain":[-1,2],"nice":false,"zero":false},"axis":{"orient":"bottom","values":[-1,0,1,2],"offset":-20,"tickSize":20,"ticks":true,"tickColor":"black","tickWidth":1.5,"tickOpacity":1,"zindex":1,"labels":true,"labelPadding":20,"format":"~g","title":"Normalized Color","titleX":319,"titleY":88,"titleAlign":"center","titleBaseline":"alphabetic"}},"y":{"field":"z","type":"quantitative","scale":{"domain":[0,2.5],"nice":false,"zero":false},"axis":{"orient":"left","values":[0,0.5,1,1.5,2],"offset":-19,"tickSize":19,"ticks":true,"tickColor":"black","tickWidth":1.5,"tickOpacity":1,"zindex":1,"labels":true,"labelPadding":18,"format":"~g","title":null}}}},
{"data":{"name":"hist"},"transform":[{"filter":"datum.p==='uz'"}],"mark":{"type":"line","interpolate":"step-after","color":"black","strokeWidth":1.8},
"encoding":{"x":{"field":"x","type":"quantitative","scale":{"domain":[-1,2],"nice":false,"zero":false},"axis":{"orient":"top","values":[-1,-0.8,-0.6,-0.4,-0.2,0,0.2,0.4,0.6,0.8,1,1.2,1.4,1.6,1.8,2],"offset":-10,"tickSize":10,"ticks":true,"tickColor":"black","tickWidth":1.5,"tickOpacity":1,"zindex":1,"labels":false,"title":null}},"y":{"field":"n","type":"quantitative","scale":{"domain":[0,1200],"nice":false,"zero":false},"axis":{"orient":"right","values":[0,50,100,150,200,250,300,350,400,450,500,550,600,650,700,750,800,850,900,950,1000,1050,1100,1150,1200],"offset":-9,"tickSize":9,"ticks":true,"tickColor":"black","tickWidth":1.5,"tickOpacity":1,"zindex":1,"labels":false,"title":null}}}},
{"data":{"name":"hist"},"transform":[{"filter":"datum.p==='uz'"}],"mark":{"type":"line","interpolate":"step-after","color":"black","opacity":0},
"encoding":{"x":{"field":"x","type":"quantitative","scale":{"domain":[-1,2],"nice":false,"zero":false},"axis":{"orient":"top","values":[-1,0,1,2],"offset":-20,"tickSize":20,"ticks":true,"tickColor":"black","tickWidth":1.5,"tickOpacity":1,"zindex":1,"labels":false,"title":null}},"y":{"field":"n","type":"quantitative","scale":{"domain":[0,1200],"nice":false,"zero":false},"axis":{"orient":"right","values":[0,200,400,600,800,1000,1200],"offset":-19,"tickSize":19,"ticks":true,"tickColor":"black","tickWidth":1.5,"tickOpacity":1,"zindex":1,"labels":false,"title":null}}}},
{"data":{"values":[{"t":"Δ(u*−z*)"}]},"mark":{"type":"text","align":"right","baseline":"bottom","font":"Liberation Serif","fontSize":26,"color":"black"},
"encoding":{"text":{"field":"t","type":"nominal"},"x":{"datum":1.93,"type":"quantitative","scale":{"domain":[-1,2],"nice":false,"zero":false},"axis":null},"y":{"datum":5,"type":"quantitative","scale":{"domain":[0,1200],"nice":false,"zero":false},"axis":null}}}
],
"resolve":{"scale":{"y":"independent"},"axis":{"x":"independent","y":"independent"}}},

{"width":319,"height":236,
"layer":[
{"data":{"name":"cells"},"transform":[{"filter":"datum.p==='gi'"}],"mark":{"type":"rect"},
"encoding":{"x":{"field":"a","type":"quantitative","scale":{"domain":[-1,2],"nice":false,"zero":false},"axis":null},"x2":{"field":"b"},"y":{"datum":0.28,"type":"quantitative","scale":{"domain":[0,2.5],"nice":false,"zero":false},"axis":null},"y2":{"datum":2.2},"color":{"field":"d","type":"quantitative","scale":{"domain":[0,1],"range":["#ffffff","#808080"]},"legend":null}}},
{"data":{"name":"pts"},"transform":[{"filter":"datum.p==='gi'"}],"mark":{"type":"square","size":4,"color":"black","opacity":1},
"encoding":{"x":{"field":"x","type":"quantitative","scale":{"domain":[-1,2],"nice":false,"zero":false},"axis":{"orient":"bottom","values":[-1,-0.8,-0.6,-0.4,-0.2,0,0.2,0.4,0.6,0.8,1,1.2,1.4,1.6,1.8,2],"offset":-10,"tickSize":10,"ticks":true,"tickColor":"black","tickWidth":1.5,"tickOpacity":1,"zindex":1,"labels":false,"title":null}},"y":{"field":"z","type":"quantitative","scale":{"domain":[0,2.5],"nice":false,"zero":false},"axis":{"orient":"left","values":[0,0.1,0.2,0.3,0.4,0.5,0.6,0.7,0.8,0.9,1,1.1,1.2,1.3,1.4,1.5,1.6,1.7,1.8,1.9,2,2.1,2.2,2.3,2.4,2.5],"offset":-9,"tickSize":9,"ticks":true,"tickColor":"black","tickWidth":1.5,"tickOpacity":1,"zindex":1,"labels":false,"title":null}}}},
{"data":{"name":"pts"},"transform":[{"filter":"datum.p==='gi'"}],"mark":{"type":"square","size":4,"color":"black","opacity":0},
"encoding":{"x":{"field":"x","type":"quantitative","scale":{"domain":[-1,2],"nice":false,"zero":false},"axis":{"orient":"bottom","values":[0,1,2],"offset":-20,"tickSize":20,"ticks":true,"tickColor":"black","tickWidth":1.5,"tickOpacity":1,"zindex":1,"labels":true,"labelPadding":20,"format":"~g","title":null}},"y":{"field":"z","type":"quantitative","scale":{"domain":[0,2.5],"nice":false,"zero":false},"axis":{"orient":"left","values":[0,0.5,1,1.5,2,2.5],"offset":-19,"tickSize":19,"ticks":true,"tickColor":"black","tickWidth":1.5,"tickOpacity":1,"zindex":1,"labels":false,"title":null}}}},
{"data":{"name":"hist"},"transform":[{"filter":"datum.p==='gi'"}],"mark":{"type":"line","interpolate":"step-after","color":"black","strokeWidth":1.8},
"encoding":{"x":{"field":"x","type":"quantitative","scale":{"domain":[-1,2],"nice":false,"zero":false},"axis":{"orient":"top","values":[-1,-0.8,-0.6,-0.4,-0.2,0,0.2,0.4,0.6,0.8,1,1.2,1.4,1.6,1.8,2],"offset":-10,"tickSize":10,"ticks":true,"tickColor":"black","tickWidth":1.5,"tickOpacity":1,"zindex":1,"labels":false,"title":null}},"y":{"field":"n","type":"quantitative","scale":{"domain":[0,1200],"nice":false,"zero":false},"axis":{"orient":"right","values":[0,50,100,150,200,250,300,350,400,450,500,550,600,650,700,750,800,850,900,950,1000,1050,1100,1150,1200],"offset":-9,"tickSize":9,"ticks":true,"tickColor":"black","tickWidth":1.5,"tickOpacity":1,"zindex":1,"labels":false,"title":null}}}},
{"data":{"name":"hist"},"transform":[{"filter":"datum.p==='gi'"}],"mark":{"type":"line","interpolate":"step-after","color":"black","opacity":0},
"encoding":{"x":{"field":"x","type":"quantitative","scale":{"domain":[-1,2],"nice":false,"zero":false},"axis":{"orient":"top","values":[-1,0,1,2],"offset":-20,"tickSize":20,"ticks":true,"tickColor":"black","tickWidth":1.5,"tickOpacity":1,"zindex":1,"labels":false,"title":null}},"y":{"field":"n","type":"quantitative","scale":{"domain":[0,1200],"nice":false,"zero":false},"axis":{"orient":"right","values":[0,200,400,600,800,1000],"offset":-19,"tickSize":19,"ticks":true,"tickColor":"black","tickWidth":1.5,"tickOpacity":1,"zindex":1,"labels":true,"labelPadding":20,"format":"d","title":null}}}},
{"data":{"values":[{"t":"Δ(g*−i*)"}]},"mark":{"type":"text","align":"right","baseline":"bottom","font":"Liberation Serif","fontSize":26,"color":"black"},
"encoding":{"text":{"field":"t","type":"nominal"},"x":{"datum":1.93,"type":"quantitative","scale":{"domain":[-1,2],"nice":false,"zero":false},"axis":null},"y":{"datum":5,"type":"quantitative","scale":{"domain":[0,1200],"nice":false,"zero":false},"axis":null}}},
{"data":{"values":[{"t":"flat -> steep -> dusty"}]},"mark":{"type":"text","align":"left","baseline":"alphabetic","font":"Liberation Mono","fontSize":17.5,"color":"black"},
"encoding":{"text":{"field":"t","type":"nominal"},"x":{"datum":-0.7,"type":"quantitative","scale":{"domain":[-1,2],"nice":false,"zero":false},"axis":null},"y":{"datum":2.22,"type":"quantitative","scale":{"domain":[0,2.5],"nice":false,"zero":false},"axis":null}}}
],
"resolve":{"scale":{"y":"independent"},"axis":{"x":"independent","y":"independent"}}}
]
}
